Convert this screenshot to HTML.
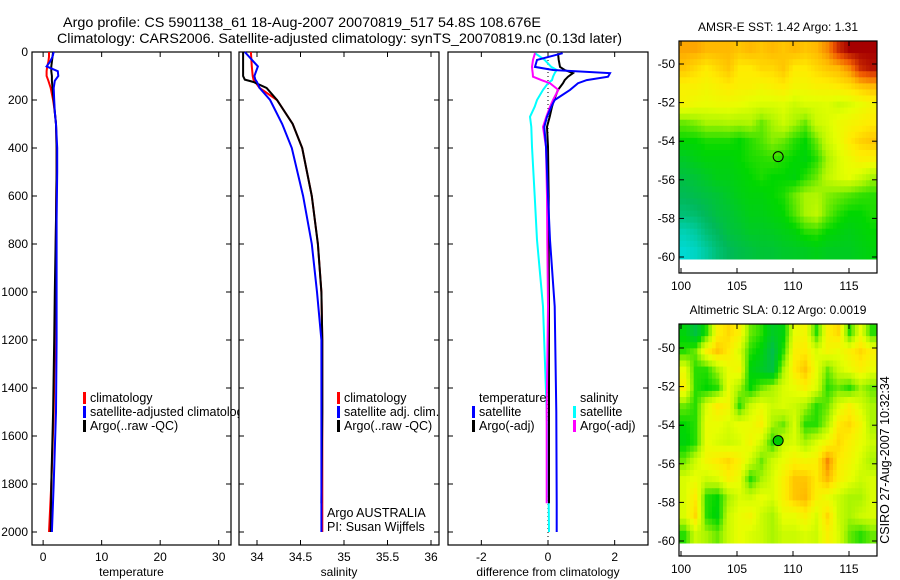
<!DOCTYPE html>
<html><head><meta charset="utf-8"><style>
body{margin:0;background:#fff;}
svg{display:block;font-family:"Liberation Sans",sans-serif;}
</style></head><body>
<svg id="c" width="900" height="580" viewBox="0 0 900 580">
<defs><clipPath id="clipP1"><rect x="32" y="40" width="207" height="510"/></clipPath></defs>
<text x="63" y="27" font-size="14" textLength="478" lengthAdjust="spacingAndGlyphs">Argo profile: CS 5901138_61 18-Aug-2007 20070819_517 54.8S 108.676E</text>
<text x="57" y="43" font-size="14" textLength="565" lengthAdjust="spacingAndGlyphs">Climatology: CARS2006. Satellite-adjusted climatology: synTS_20070819.nc (0.13d later)</text>
<g id="g"></g>
</svg>
<script>
// ---------- data ----------
const tDepth=[0,20,40,60,80,100,120,150,200,250,300,400,500,700,1000,1200,1500,1800,2000];
const tempClim=[1.0,1.0,0.9,0.7,0.6,0.6,0.9,1.3,1.7,2.0,2.2,2.3,2.3,2.2,2.1,2.0,1.8,1.4,1.0];
const tempSat=[1.8,1.6,1.2,0.6,2.5,2.6,2.0,1.8,1.9,2.0,2.2,2.4,2.4,2.3,2.3,2.3,2.2,1.8,1.5];
const tempArgo=[1.7,1.6,1.5,1.4,1.4,1.5,1.5,1.6,1.8,2.0,2.2,2.3,2.3,2.2,2.0,1.9,1.7,1.4,1.3];
const sDepth=[0,60,100,115,125,150,200,300,400,600,800,1000,1200,1500,1880,2000];
const salClim=[33.93,33.94,33.95,33.96,33.98,34.03,34.23,34.41,34.52,34.63,34.70,34.74,34.75,34.75,34.75,34.75];
const salSat=[33.86,34.01,33.97,33.98,34.0,34.03,34.15,34.29,34.40,34.53,34.63,34.69,34.74,34.74,34.74,34.74];
const salArgo=[33.84,33.84,33.84,33.86,33.96,34.11,34.23,34.41,34.52,34.63,34.70,34.74,34.75,34.75,34.74,null];
const dDepth=[5,33,62,75,88,103,117,130,158,200,228,270,312,395,600,783,1060,1500,1880,2000];
const dTempSat=[0.44,-0.33,-0.39,0.15,1.86,1.8,1.16,0.9,0.66,0.2,0.1,-0.03,-0.11,-0.06,0.0,0.06,0.2,0.25,0.26,0.26];
const dTempArgo=[0.3,0.32,0.36,0.5,0.75,0.6,0.5,0.45,0.3,0.18,0.12,0.05,-0.03,0.0,0.02,0.02,0.03,0.03,0.03,null];
const dSalSat=[-0.39,-0.1,0.1,0.26,0.2,0.15,0.12,0.0,-0.15,-0.33,-0.4,-0.54,-0.5,-0.48,-0.4,-0.33,-0.15,-0.04,0.02,0.03];
const dSalArgo=[-0.39,-0.45,-0.48,-0.47,-0.46,-0.45,-0.2,0.06,0.31,0.15,0.06,-0.05,-0.15,-0.06,-0.03,-0.02,0.0,-0.04,-0.04,null];
const depthTicks=[0,200,400,600,800,1000,1200,1400,1600,1800,2000];
const tempTicks=[0,10,20,30];
const salTicks=[34,34.5,35,35.5,36];
const diffTicks=[-2,0,2];
const lonTicks=[100,105,110,115];
const latTicks=[-50,-52,-54,-56,-58,-60];
const sstGrid=[
[0.82,0.82,0.8,0.8,0.8,0.78,0.8,0.78,0.8,0.78,0.8,0.78,0.8,0.85,0.95,1,1,1],
[0.78,0.75,0.72,0.75,0.78,0.72,0.72,0.75,0.75,0.78,0.72,0.72,0.75,0.78,0.8,0.85,0.95,0.98],
[0.7,0.7,0.68,0.7,0.72,0.7,0.7,0.68,0.7,0.72,0.68,0.68,0.7,0.7,0.72,0.74,0.78,0.8],
[0.68,0.66,0.65,0.66,0.66,0.65,0.63,0.62,0.62,0.63,0.6,0.62,0.62,0.63,0.6,0.62,0.65,0.68],
[0.5,0.52,0.55,0.55,0.56,0.55,0.56,0.5,0.55,0.6,0.55,0.5,0.6,0.62,0.66,0.68,0.7,0.72],
[0.42,0.42,0.44,0.44,0.44,0.42,0.45,0.48,0.52,0.5,0.45,0.42,0.5,0.6,0.65,0.72,0.76,0.78],
[0.35,0.38,0.4,0.4,0.4,0.42,0.44,0.45,0.46,0.44,0.42,0.4,0.45,0.55,0.62,0.66,0.7,0.7],
[0.3,0.32,0.35,0.38,0.38,0.4,0.42,0.44,0.42,0.42,0.4,0.45,0.5,0.58,0.62,0.64,0.6,0.55],
[0.26,0.28,0.3,0.32,0.35,0.38,0.4,0.4,0.42,0.44,0.5,0.55,0.56,0.52,0.5,0.48,0.46,0.45],
[0.2,0.22,0.26,0.3,0.32,0.35,0.38,0.38,0.4,0.42,0.48,0.55,0.58,0.5,0.45,0.42,0.42,0.44],
[0.08,0.12,0.2,0.25,0.3,0.32,0.35,0.35,0.36,0.38,0.4,0.45,0.46,0.42,0.4,0.38,0.4,0.42],
[0.02,0.05,0.12,0.2,0.25,0.28,0.3,0.32,0.32,0.34,0.35,0.36,0.38,0.36,0.36,0.36,0.38,0.4]];
const slaGrid=[
[0.4,0.3,0.45,0.7,0.75,0.7,0.5,0.45,0.35,0.4,0.65,0.68,0.45,0.7,0.75,0.45,0.65,0.45],
[0.45,0.5,0.7,0.78,0.72,0.62,0.45,0.4,0.28,0.45,0.7,0.72,0.62,0.68,0.65,0.7,0.75,0.7],
[0.65,0.45,0.45,0.55,0.65,0.68,0.4,0.35,0.3,0.55,0.72,0.78,0.65,0.5,0.6,0.65,0.7,0.65],
[0.7,0.45,0.42,0.45,0.65,0.55,0.42,0.5,0.55,0.62,0.65,0.7,0.62,0.45,0.5,0.45,0.55,0.5],
[0.5,0.45,0.62,0.72,0.68,0.45,0.6,0.65,0.6,0.62,0.6,0.55,0.45,0.5,0.62,0.7,0.62,0.55],
[0.42,0.45,0.65,0.65,0.62,0.65,0.65,0.7,0.55,0.5,0.62,0.45,0.45,0.55,0.72,0.75,0.68,0.55],
[0.4,0.45,0.65,0.62,0.6,0.62,0.68,0.6,0.45,0.6,0.62,0.55,0.62,0.68,0.75,0.7,0.65,0.6],
[0.5,0.6,0.68,0.72,0.75,0.7,0.6,0.5,0.6,0.65,0.7,0.68,0.7,0.85,0.72,0.68,0.62,0.55],
[0.62,0.65,0.6,0.62,0.7,0.65,0.45,0.55,0.62,0.7,0.78,0.78,0.72,0.8,0.7,0.65,0.6,0.62],
[0.62,0.72,0.45,0.42,0.55,0.62,0.6,0.65,0.62,0.7,0.78,0.8,0.7,0.65,0.6,0.55,0.55,0.62],
[0.62,0.75,0.45,0.4,0.6,0.65,0.68,0.6,0.55,0.65,0.65,0.7,0.62,0.75,0.6,0.55,0.6,0.62],
[0.45,0.6,0.55,0.5,0.6,0.65,0.62,0.6,0.55,0.6,0.6,0.62,0.6,0.7,0.62,0.5,0.45,0.5]];
const argoLon=108.676, argoLat=-54.8;

// ---------- drawing ----------
const NS="http://www.w3.org/2000/svg";
const G=document.getElementById('g');
function el(tag,attrs,parent){const e=document.createElementNS(NS,tag);for(const k in attrs)e.setAttribute(k,attrs[k]);(parent||G).appendChild(e);return e;}
function txt(x,y,s,anchor,size,parent){const t=el('text',{x:x,y:y,'font-size':size||12,'text-anchor':anchor||'start'},parent);t.textContent=s;return t;}
const Y0=52,Ypx=0.24,YT=52,YB=545;
const yD=d=>Y0+d*Ypx;

function panel(name,x0,x1,v0,v1,xticks,xlabel,showY){
  const xs=v=>x0+(v-v0)/(v1-v0)*(x1-x0);
  const g=el('g',{});
  
  
  const r=el('rect',{x:x0,y:YT,width:x1-x0,height:YB-YT,fill:'none',stroke:'#000','stroke-width':1.2},g);
  
  
  depthTicks.forEach(d=>{
    el('line',{x1:x0,x2:x0+5,y1:yD(d),y2:yD(d),stroke:'#000'},g);
    el('line',{x1:x1,x2:x1-5,y1:yD(d),y2:yD(d),stroke:'#000'},g);
    if(showY){const t=txt(x0-4,yD(d)+4,String(d),'end',12,g);
      
      }
  });
  xticks.forEach(v=>{
    el('line',{x1:xs(v),x2:xs(v),y1:YB,y2:YB-5,stroke:'#000'},g);
    el('line',{x1:xs(v),x2:xs(v),y1:YT,y2:YT+5,stroke:'#000'},g);
    const t=txt(xs(v),561,String(v),'middle',12,g);
    
    
  });
  const xl=txt((x0+x1)/2,576,xlabel,'middle',12,g);
  
  
  return {xs,g};
}
function series(p,depths,vals,color,name){
  let pts=[];
  depths.forEach((d,i)=>{if(vals[i]!=null)pts.push(p.xs(vals[i]).toFixed(1)+','+yD(d).toFixed(1));});
  const l=el('polyline',{points:pts.join(' '),fill:'none',stroke:color,'stroke-width':2},p.g);
  
  
}
function legend(p,x,y,items,clip){
  const lg=el('g',clip?{'clip-path':'url(#clipP1)'}:{},p.g);
  
  
  items.forEach((it,i)=>{
    const yy=y+i*14;
    if(it[1])el('rect',{x:x,y:yy-10,width:3,height:12,fill:it[1]},lg);
    const t=txt(x+7,yy,it[0],'start',12.5,lg);
    
    
  });
}
const p1=panel('temperature-panel',32,231,-1.9,32.1,tempTicks,'temperature',true);
series(p1,tDepth,tempClim,'#f00','temp-climatology-line');
series(p1,tDepth,tempArgo,'#000','temp-argo-line');
series(p1,tDepth,tempSat,'#00f','temp-satellite-line');
legend(p1,83,402,[['climatology','#f00'],['satellite-adjusted climatology','#00f'],['Argo(..raw -QC)','#000']],true);

const p2=panel('salinity-panel',239,439,33.793,36.092,salTicks,'salinity',false);
series(p2,sDepth,salClim,'#f00','sal-climatology-line');
series(p2,sDepth,salArgo,'#000','sal-argo-line');
series(p2,sDepth,salSat,'#00f','sal-satellite-line');
legend(p2,337,402,[['climatology','#f00'],['satellite adj. clim.','#00f'],['Argo(..raw -QC)','#000']]);
let t=txt(327,517,'Argo AUSTRALIA','start',12.5,p2.g);


t=txt(327,531,'PI: Susan Wijffels','start',12.5,p2.g);



const p3=panel('difference-panel',448,648,-3,3,diffTicks,'difference from climatology',false);
el('line',{x1:p3.xs(0),x2:p3.xs(0),y1:YT,y2:YB,stroke:'#000','stroke-dasharray':'1,3','stroke-width':1},p3.g);
series(p3,dDepth,dSalSat,'#0ff','diff-sal-satellite-line');
series(p3,dDepth,dTempArgo,'#000','diff-temp-argo-line');
series(p3,dDepth,dSalArgo,'#f0f','diff-sal-argo-line');
series(p3,dDepth,dTempSat,'#00f','diff-temp-satellite-line');
legend(p3,472,402,[['temperature',null],['satellite','#00f'],['Argo(-adj)','#000']]);
legend(p3,573,402,[['salinity',null],['satellite','#0ff'],['Argo(-adj)','#f0f']]);

// colormap
const stops=[[0,[0,220,220]],[0.25,[0,185,90]],[0.42,[0,215,0]],[0.55,[170,245,0]],[0.64,[230,255,0]],[0.72,[255,235,0]],[0.8,[255,185,0]],[0.9,[240,90,0]],[1,[165,0,0]]];
function cmap(v){for(let i=1;i<stops.length;i++){if(v<=stops[i][0]){const a=stops[i-1],b=stops[i];const f=(v-a[0])/(b[0]-a[0]);return 'rgb('+a[1].map((c,k)=>Math.round(c+(b[1][k]-c)*f)).join(',')+')';}}return 'rgb(165,0,0)';}
function sample(grid,fr,fc){
  const R=grid.length,C=grid[0].length;
  const r=Math.min(Math.max(fr,0),R-1),c=Math.min(Math.max(fc,0),C-1);
  const r0=Math.floor(r),c0=Math.floor(c),r1=Math.min(r0+1,R-1),c1=Math.min(c0+1,C-1);
  const a=r-r0,b=c-c0;
  return grid[r0][c0]*(1-a)*(1-b)+grid[r0][c1]*(1-a)*b+grid[r1][c0]*a*(1-b)+grid[r1][c1]*a*b;
}

function mapPanel(name,title,top,latRefY50,latRefY60,imgBottom,boxBottom,grid,dotFill){
  const x0=679,x1=877;
  const xL=lon=>681+(lon-100)*11.2;
  const yL=lat=>latRefY50+(lat+50)/(-10)*(latRefY60-latRefY50);
  const g=el('g',{});
  
  
  const rows=grid.length,cols=grid[0].length,S=3;
  const cw=(x1-x0)/(cols*S),ch=(imgBottom-top)/(rows*S);
  for(let r=0;r<rows*S;r++)for(let c=0;c<cols*S;c++){
    const v=sample(grid,(r+0.5)/S-0.5,(c+0.5)/S-0.5);
    const cell=el('rect',{x:(x0+c*cw).toFixed(2),y:(top+r*ch).toFixed(2),width:(cw+0.5).toFixed(2),height:(ch+0.5).toFixed(2),fill:cmap(v)},g);
    
    
  }
  el('rect',{x:x0,y:top,width:x1-x0,height:boxBottom-top,fill:'none',stroke:'#000','stroke-width':1.2},g);
  latTicks.forEach(l=>{
    el('line',{x1:x0,x2:x0+5,y1:yL(l),y2:yL(l),stroke:'#000'},g);
    el('line',{x1:x1,x2:x1-5,y1:yL(l),y2:yL(l),stroke:'#000'},g);
    const tl=txt(x0-4,yL(l)+4,String(l),'end',12,g);
    
    
  });
  lonTicks.forEach(l=>{
    el('line',{x1:xL(l),x2:xL(l),y1:boxBottom,y2:boxBottom-5,stroke:'#000'},g);
    el('line',{x1:xL(l),x2:xL(l),y1:top,y2:top+5,stroke:'#000'},g);
    const tl=txt(xL(l),boxBottom+17,String(l),'middle',12,g);
    
    
  });
  const tt=txt(778,top-10,title,'middle',12,g);
  
  
  const c=el('circle',{cx:xL(argoLon),cy:yL(argoLat),r:5,fill:dotFill,stroke:'#000','stroke-width':1},g);
  
  
}
mapPanel('sst-map','AMSR-E SST: 1.42 Argo: 1.31',41,64,257,259,273,sstGrid,'none');
mapPanel('sla-map','Altimetric SLA: 0.12 Argo: 0.0019',324,348,541,543,556,slaGrid,'#00cc00');
t=txt(0,0,'CSIRO 27-Aug-2007 10:32:34','middle',12.5);
t.setAttribute('transform','translate(889,460) rotate(-90)');


</script>
</body></html>
